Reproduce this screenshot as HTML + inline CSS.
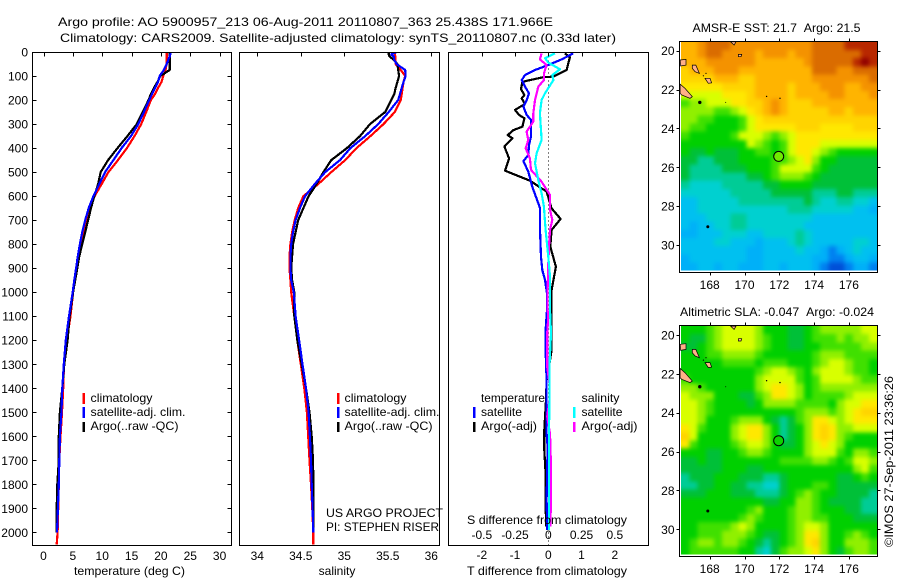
<!DOCTYPE html>
<html lang="en">
<head>
<meta charset="utf-8">
<title>Argo profile 5900957_213</title>
<style>
html,body{margin:0;padding:0;background:#fff;width:900px;height:580px;overflow:hidden}
svg{display:block}
text{font-family:"Liberation Sans",Arial,sans-serif;font-size:12px;fill:#000}
.crisp{shape-rendering:crispEdges}
.frame{fill:none;stroke:#000;stroke-width:1;shape-rendering:crispEdges}
.mark{stroke-width:2.5;shape-rendering:crispEdges}
</style>
</head>
<body>
<svg id="figure" xmlns="http://www.w3.org/2000/svg" width="900" height="580" viewBox="0 0 900 580">
  <defs>
    <filter id="soften" x="-5%" y="-5%" width="110%" height="110%" color-interpolation-filters="sRGB">
      <feGaussianBlur stdDeviation="2"/>
      <feComponentTransfer><feFuncA type="linear" slope="20"/></feComponentTransfer>
    </filter>
  </defs>
  <rect x="0" y="0" width="900" height="580" fill="#fff"/>
  <text x="58" y="26" textLength="495" lengthAdjust="spacingAndGlyphs">Argo profile: AO 5900957_213 06-Aug-2011 20110807_363 25.438S 171.966E</text>
  <text x="60" y="42" textLength="556" lengthAdjust="spacingAndGlyphs">Climatology: CARS2009. Satellite-adjusted climatology: synTS_20110807.nc (0.33d later)</text>

  <g id="temp-panel"></g>
  <g id="sal-panel"></g>
  <g id="diff-panel"></g>
  <g id="sst-map"></g>
  <g id="sla-map"></g>

  <text x="129.5" y="575" text-anchor="middle" textLength="111" lengthAdjust="spacingAndGlyphs">temperature (deg C)</text>
  <text x="337" y="575" text-anchor="middle">salinity</text>
  <text x="467" y="575" textLength="160" lengthAdjust="spacingAndGlyphs">T difference from climatology</text>
  <text x="467" y="524" textLength="160" lengthAdjust="spacingAndGlyphs">S difference from climatology</text>

  <g>
    <line class="mark" x1="83.5" x2="83.5" y1="393" y2="404" stroke="#f00"/>
    <line class="mark" x1="83.5" x2="83.5" y1="407" y2="418" stroke="#00f"/>
    <line class="mark" x1="83.5" x2="83.5" y1="422" y2="432" stroke="#000"/>
    <text x="90.5" y="402" textLength="62" lengthAdjust="spacingAndGlyphs">climatology</text>
    <text x="90.5" y="416" textLength="95" lengthAdjust="spacingAndGlyphs">satellite-adj. clim.</text>
    <text x="90.5" y="430" textLength="88" lengthAdjust="spacingAndGlyphs">Argo(..raw -QC)</text>
  </g>
  <g>
    <line class="mark" x1="338" x2="338" y1="393" y2="404" stroke="#f00"/>
    <line class="mark" x1="338" x2="338" y1="407" y2="418" stroke="#00f"/>
    <line class="mark" x1="338" x2="338" y1="422" y2="432" stroke="#000"/>
    <text x="344.5" y="402" textLength="62" lengthAdjust="spacingAndGlyphs">climatology</text>
    <text x="344.5" y="416" textLength="95" lengthAdjust="spacingAndGlyphs">satellite-adj. clim.</text>
    <text x="344.5" y="430" textLength="88" lengthAdjust="spacingAndGlyphs">Argo(..raw -QC)</text>
  </g>
  <g>
    <line class="mark" x1="474" x2="474" y1="407" y2="418" stroke="#00f"/>
    <line class="mark" x1="474" x2="474" y1="422" y2="432" stroke="#000"/>
    <line class="mark" x1="574" x2="574" y1="407" y2="418" stroke="#0ff"/>
    <line class="mark" x1="574" x2="574" y1="422" y2="432" stroke="#f0f"/>
    <text x="481" y="402" textLength="64" lengthAdjust="spacingAndGlyphs">temperature</text>
    <text x="481" y="416" textLength="41" lengthAdjust="spacingAndGlyphs">satellite</text>
    <text x="481" y="430" textLength="56" lengthAdjust="spacingAndGlyphs">Argo(-adj)</text>
    <text x="581.5" y="402" textLength="38" lengthAdjust="spacingAndGlyphs">salinity</text>
    <text x="581.5" y="416" textLength="41" lengthAdjust="spacingAndGlyphs">satellite</text>
    <text x="581.5" y="430" textLength="56" lengthAdjust="spacingAndGlyphs">Argo(-adj)</text>
  </g>

  <text x="326" y="517" textLength="117" lengthAdjust="spacingAndGlyphs">US ARGO PROJECT</text>
  <text x="326" y="531" textLength="113" lengthAdjust="spacingAndGlyphs">PI: STEPHEN RISER</text>

  <text x="692.5" y="32" textLength="168" lengthAdjust="spacingAndGlyphs">AMSR-E SST: 21.7 &#160;Argo: 21.5</text>
  <text x="680" y="316" textLength="194" lengthAdjust="spacingAndGlyphs">Altimetric SLA: -0.047 &#160;Argo: -0.024</text>
  <text transform="translate(893,547) rotate(-90)" textLength="171" lengthAdjust="spacingAndGlyphs">©IMOS 27-Sep-2011 23:36:26</text>
</svg>

<script>
// ---- profile data ----
const depths = [0,10,20,30,50,75,100,125,150,175,200,250,300,350,400,450,500,550,600,650,700,750,800,850,900,950,1000,1100,1200,1300,1400,1500,1600,1700,1800,1900,2000,2050];
const tempClimatology = [21.0,21.0,21.0,21.0,20.95,20.8,20.4,20.1,19.5,19.0,18.3,17.5,16.65,15.5,14.2,12.7,11.05,9.9,8.7,7.9,7.25,6.8,6.4,6.05,5.75,5.4,5.05,4.6,3.95,3.5,3.35,3.15,2.9,2.7,2.6,2.5,2.4,2.25];
const tempSatellite = [21.7,21.6,21.5,21.3,21.0,20.5,19.8,19.5,19.0,18.5,18.0,17.1,16.15,14.9,13.3,11.9,10.5,9.5,8.5,7.7,7.1,6.6,6.2,5.85,5.55,5.25,4.97,4.35,3.8,3.45,3.2,3.05,2.8,2.7,2.6,2.45,2.3,null];
const tempArgo = [21.5,21.5,21.5,21.5,21.5,21.5,19.9,19.4,18.8,18.3,17.9,16.9,15.9,14.3,12.6,11.0,9.75,9.3,8.65,8.1,7.6,7.1,6.6,6.1,5.75,5.4,5.05,4.45,4.1,3.55,3.2,2.8,2.6,2.6,2.35,2.25,2.25,null];
const salClimatology = [35.58,35.58,35.59,35.59,35.59,35.65,35.7,35.68,35.67,35.66,35.65,35.58,35.45,35.3,35.14,35.01,34.85,34.7,34.53,34.47,34.43,34.4,34.38,34.37,34.37,34.38,34.39,34.425,34.46,34.5,34.54,34.57,34.585,34.6,34.617,34.632,34.644,34.644];
const salSatellite = [35.6,35.54,35.57,35.57,35.6,35.7,35.705,35.68,35.66,35.64,35.62,35.51,35.39,35.24,35.07,34.95,34.78,34.66,34.55,34.49,34.44,34.41,34.39,34.38,34.38,34.39,34.42,34.44,34.48,34.52,34.56,34.59,34.605,34.617,34.625,34.636,34.644,null];
const salArgo = [35.51,35.51,35.525,35.56,35.61,35.62,35.63,35.61,35.59,35.575,35.54,35.47,35.295,35.18,35.03,34.85,34.76,34.68,34.59,34.53,34.47,34.44,34.41,34.4,34.39,34.4,34.425,34.425,34.46,34.51,34.56,34.6,34.625,34.64,34.645,34.645,34.645,null];

// ---- difference data ----
const tDiffArgoDepths = [6,22,75,103,105,117,124,155,179,193,216,241,262,276,311,325,346,359,394,443,494,536,581,651,695,741,810,894,991,1130,1241,1310,1366,1449,1574,1657,1754,1830,1976];
const tDiffArgo = [.5,.65,.55,.15,-.15,-.55,-.78,-.82,-.72,-.8,-.7,-1.0,-.88,-.72,-.78,-1.05,-1.22,-1.08,-1.32,-1.18,-1.3,-.55,-.05,.1,.37,.1,.06,.23,.1,.1,.1,.02,-.05,-.07,-.12,-.12,-.08,-.08,-.07];
const tDiffSatDepths = [6,31,54,75,96,117,144,172,200,228,262,283,325,352,387,429,454,498,561,630,651,741,852,908,949,1005,1074,1157,1241,1366,1449,1588,1643,1865,1990];
const tDiffSat = [.75,.40,0,-.40,-.70,-.80,-.70,-.58,-.65,-.75,-.65,-.52,-.52,-.52,-.58,-.60,-.75,-.60,-.48,-.30,-.25,-.25,-.22,-.18,-.10,-.04,-.04,-.08,-.08,-.05,-.05,-.05,-.02,-.05,-.03];
const sDiffSatDepths = [6,26,44,72,96,117,172,200,255,325,366,422,463,533,588,644,741,852,935,1074,1171,1310,1449,1588,1727,1990];
const sDiffSat = [.05,-.025,0,.088,.03,.038,-.025,-.05,-.063,-.055,-.05,-.088,-.10,-.075,-.05,-.033,-.02,0,.013,.013,.02,.008,.008,.005,.005,.005];
const sDiffArgoDepths = [6,31,54,89,117,144,200,255,290,332,366,401,443,491,540,595,657,699,741,810,880,991,1074,1102,1171,1310,1379,1449,1518,1588,1727,1865,1976];
const sDiffArgo = [-.05,-.063,-.013,-.033,-.033,-.075,-.10,-.113,-.113,-.163,-.15,-.17,-.138,-.13,-.05,.013,.013,.03,.013,.005,0,-.005,-.005,0,-.008,-.008,.008,.008,-.008,.013,.02,.02,.015];

// ---- tick labels ----
const depthTicks = [0,100,200,300,400,500,600,700,800,900,1000,1100,1200,1300,1400,1500,1600,1700,1800,1900,2000];
const tempTicks = [0,5,10,15,20,25,30];
const salTicks = [34,34.5,35,35.5,36];
const tDiffTicks = [-2,-1,0,1,2];
const sDiffTicks = [-0.5,-0.25,0,0.25,0.5];
const lonTicks = [168,170,172,174,176];
const latTicks = [20,22,24,26,28,30];

// ---- map data: colour-scale levels, rows north to south ----
const sstLevels = [
[13,13,14,15,15,15,14,14,14,14,14,14,14,14,14,14,15,15,15,15,16,16,16,16],
[13,13,14,15,15,14,14,14,14,13,14,14,14,13,14,14,15,15,15,15,15,15,16,16],
[13,13,13,14,14,14,14,14,14,13,13,13,13,13,13,14,15,15,15,15,15,16,17,16],
[12,13,13,13,14,14,14,13,13,13,13,13,13,13,13,13,15,15,15,14,14,15,15,15],
[12,12,12,12,13,13,13,12,12,13,13,13,13,13,13,13,14,14,14,14,14,14,14,15],
[11,11,11,11,11,12,12,12,12,13,13,13,13,12,13,13,13,14,14,14,13,13,14,14],
[10,10,10,10,10,11,11,11,12,13,13,13,13,12,13,13,13,13,14,14,13,13,13,14],
[8,9,9,10,10,10,11,11,12,12,13,14,13,12,12,12,13,13,13,13,13,13,13,13],
[9,9,9,9,8,8,9,10,11,12,13,14,13,12,12,12,12,12,13,13,12,13,13,13],
[9,9,8,8,7,7,7,8,10,11,12,12,12,12,12,12,12,12,12,12,12,12,12,12],
[9,8,8,7,7,7,7,8,10,11,11,11,11,11,12,12,12,11,11,11,11,12,12,12],
[8,7,7,7,7,7,8,10,10,10,9,8,9,10,11,11,11,11,11,11,11,11,11,11],
[7,7,7,7,7,7,7,7,10,9,8,7,8,10,11,11,11,10,10,10,10,10,10,10],
[7,6,6,7,6,6,6,7,7,8,8,7,8,10,11,11,10,9,8,7,7,7,7,7],
[6,6,5,5,6,6,6,7,7,7,7,8,8,9,10,11,9,7,7,6,6,6,6,6],
[6,5,5,5,5,6,6,6,7,7,7,8,10,10,10,10,8,7,6,6,6,6,6,6],
[6,5,5,5,5,5,5,5,6,6,7,8,9,9,9,8,7,6,6,6,6,6,6,6],
[5,4,4,4,4,5,5,5,5,5,6,6,7,7,7,7,6,6,6,6,6,6,6,6],
[4,4,4,4,4,4,5,5,5,5,5,6,6,6,6,6,5,5,5,6,6,5,5,5],
[3,3,4,4,4,4,4,5,5,5,5,5,5,5,5,6,5,4,4,5,5,4,4,3],
[3,3,4,4,4,4,4,4,4,4,4,4,4,5,5,5,4,4,4,4,4,3,3,2],
[3,3,3,4,4,4,5,5,4,4,4,4,4,4,4,4,3,3,3,3,3,3,3,3],
[3,2,3,3,4,4,5,5,4,4,4,4,4,4,4,3,3,3,3,3,3,3,3,3],
[2,2,3,3,3,4,4,4,3,3,4,4,4,4,5,4,3,3,3,3,3,3,3,3],
[3,3,3,3,4,4,3,3,3,2,3,3,3,4,5,4,3,3,3,3,3,4,4,3],
[3,3,3,3,3,3,3,3,2,2,3,3,3,3,4,3,3,2,1,2,3,4,3,3],
[2,3,3,3,3,3,3,3,2,2,3,3,3,3,3,3,2,2,1,1,2,3,3,2],
[2,2,3,3,2,3,3,2,2,2,3,3,2,3,3,3,2,1,0,0,1,2,2,1]
];
const slaLevels = [
[7,7,7,8,9,10,10,10,10,9,7,7,7,6,6,7,8,9,9,9,9,9,10,10],
[7,6,6,8,9,10,10,10,10,9,8,7,7,6,6,7,8,8,8,9,8,9,9,10],
[6,6,7,8,9,10,10,10,10,9,8,7,7,6,6,7,7,8,8,8,8,8,9,9],
[7,7,7,8,8,9,9,9,9,8,7,7,7,7,7,7,8,9,9,9,8,8,8,8],
[7,7,7,7,7,8,8,8,8,7,8,8,8,7,7,7,8,9,10,10,9,8,8,7],
[7,7,7,7,7,7,7,7,7,8,9,10,10,9,8,7,9,10,10,10,9,8,8,7],
[8,7,7,7,7,7,7,7,7,9,10,10,10,10,8,7,8,10,10,10,10,9,8,8],
[9,9,8,7,7,7,7,7,7,9,10,11,11,10,9,7,8,9,9,9,9,9,9,9],
[10,9,9,9,7,7,7,6,6,8,9,11,11,10,9,7,8,8,8,8,9,10,10,10],
[10,10,9,8,7,7,7,7,6,7,9,9,9,9,8,8,8,8,7,9,10,10,11,11],
[10,10,9,8,7,7,7,7,7,7,7,7,7,7,8,9,9,9,8,9,10,11,12,12],
[10,10,9,7,7,7,8,9,9,9,7,6,5,6,8,9,11,11,10,9,10,11,11,11],
[11,10,8,7,7,7,9,10,11,11,9,7,5,6,7,9,11,12,11,9,9,10,10,10],
[12,10,7,7,7,7,9,10,11,11,9,7,5,6,7,9,11,12,11,9,8,7,7,7],
[11,8,7,7,7,7,8,9,10,10,9,7,6,6,7,9,10,11,10,9,7,7,7,7],
[7,7,7,6,6,7,7,8,9,9,8,7,7,7,7,9,10,10,10,8,7,9,9,8],
[6,6,7,6,6,7,7,7,7,7,7,7,8,8,8,8,9,9,8,7,8,10,10,9],
[6,6,6,6,6,7,7,7,6,6,7,7,7,7,7,7,7,7,7,7,7,9,10,8],
[5,6,6,6,7,7,7,6,6,6,5,5,6,7,7,7,7,7,7,6,6,7,8,7],
[5,5,6,6,7,7,6,6,5,5,4,4,6,7,7,7,8,8,7,6,6,6,6,6],
[6,6,6,7,7,7,6,6,6,5,5,5,6,7,8,9,8,7,7,6,6,6,6,5],
[7,7,7,7,7,7,7,7,7,7,6,6,7,7,9,9,8,7,6,6,6,6,5,5],
[7,7,7,7,7,7,7,7,8,9,7,7,7,8,9,9,8,7,7,7,6,6,5,5],
[7,7,7,7,7,7,7,8,9,8,7,7,7,8,9,9,8,8,7,7,7,6,6,6],
[7,7,8,8,8,8,9,10,9,7,7,7,7,8,9,10,10,9,7,7,7,7,7,7],
[7,7,8,8,8,9,9,9,8,7,6,6,7,8,9,11,11,9,7,7,8,9,8,7],
[7,8,9,9,8,9,9,8,7,6,5,6,7,8,9,11,12,9,7,7,9,9,9,8],
[7,8,8,8,8,8,8,7,7,5,4,6,8,9,9,10,11,9,7,6,8,9,9,8]
];
const argoLon = 171.966;
const argoLat = 25.438;
const argoSstLevel = 8.6;
const argoSlaLevel = 7.2;

// ---- coastline data (lon, lat) ----
const islandOutlines = [
[[166.30,21.72],[166.58,21.94],[167.0,22.37],[166.87,22.45],[166.39,22.28],[166.30,22.2]],
[[167.0,20.74],[167.2,20.74],[167.41,21.17],[167.16,21.08],[167.0,20.91]],
[[167.73,21.42],[168.02,21.42],[168.11,21.65],[167.92,21.68]],
[[166.3,20.48],[166.64,20.45],[166.64,20.74],[166.33,20.79]],
[[169.2,19.54],[169.51,19.54],[169.4,19.71]],
[[169.65,20.19],[169.84,20.19],[169.8,20.31],[169.65,20.31]]
];
const isletLons = [167.43,167.89,168.92,171.27,172.04,167.79,167.64];
const isletLats = [22.66,29.06,22.66,22.35,22.45,21.17,21.29];
const isletSizes = [1.7,1.5,0.5,0.7,0.7,0.6,0.6];

// ---- colour scale ----
const scaleColors = [[0,80,216],[0,128,240],[0,176,248],[0,192,240],[0,208,208],[0,204,150],[0,192,56],[0,208,0],[64,224,0],[144,240,0],[216,255,0],[255,232,0],[255,212,0],[255,180,0],[244,146,0],[218,108,0],[184,40,0],[144,0,0]];
function levelColor(v){
  const c = Math.max(0, Math.min(scaleColors.length - 1, v));
  const i = Math.min(scaleColors.length - 2, Math.floor(c));
  const f = c - i;
  const a = scaleColors[i], b = scaleColors[i + 1];
  return 'rgb(' + [0,1,2].map(k => Math.round(a[k] + (b[k] - a[k]) * f)).join(',') + ')';
}

// ---- helpers ----
const NS = 'http://www.w3.org/2000/svg';
function make(tag, parent, attrs, name, txt){
  const el = document.createElementNS(NS, tag);
  for (const k in attrs) el.setAttribute(k, attrs[k]);
  
  
  if (txt !== undefined) el.textContent = txt;
  parent.appendChild(el);
  return el;
}
const depthY = d => 52 + 0.2402 * d;
const tempX = t => 43.5 + 5.87 * t;
const salX = s => 257.3 + 87 * (s - 34);
const tDiffX = t => 548.3 + 33.25 * t;
const sDiffX = s => 548.3 + 133 * s;

function drawProfile(group, clipId, xFn, ds, vals, color, name){
  const pts = [];
  ds.forEach((d, i) => {
    if (vals[i] !== null) pts.push(xFn(vals[i]).toFixed(1) + ',' + depthY(d).toFixed(1));
  });
  make('polyline', group, {points: pts.join(' '), fill: 'none', stroke: color, 'stroke-width': 2.2, 'stroke-linejoin': 'round', 'clip-path': 'url(#' + clipId + ')', 'shape-rendering': 'crispEdges'}, name);
}
function makeClip(id, x, y, w, h){
  const svg = document.getElementById('figure');
  const cp = document.createElementNS(NS, 'clipPath');
  cp.setAttribute('id', id);
  const r = document.createElementNS(NS, 'rect');
  r.setAttribute('x', x);
  r.setAttribute('y', y);
  r.setAttribute('width', w);
  r.setAttribute('height', h);
  cp.appendChild(r);
  svg.appendChild(cp);
}
function panelFrame(group, left, right, top, bottom){
  make('rect', group, {x: left, y: top, width: right - left, height: bottom - top, class: 'frame'}, 'plot-frame');
}
function topTicks(group, xs, xFn, y){
  xs.forEach(v => {
    const x = Math.round(xFn(v)) + 0.5;
    make('line', group, {x1: x, x2: x, y1: y, y2: y + 4, stroke: '#000', class: 'crisp'}, 'x-tick');
  });
}
function xLabels(group, xs, xFn, y, name){
  xs.forEach(v => {
    make('text', group, {x: xFn(v).toFixed(1), y: y, 'text-anchor': 'middle'}, name, String(v));
  });
}

// ---- temperature panel ----
const tempG = document.getElementById('temp-panel');
makeClip('clip-temp', 32.5, 52.5, 199, 493);
drawProfile(tempG, 'clip-temp', tempX, depths, tempClimatology, '#f00', 'temperature-climatology-line');
drawProfile(tempG, 'clip-temp', tempX, depths, tempArgo, '#000', 'temperature-argo-line');
drawProfile(tempG, 'clip-temp', tempX, depths, tempSatellite, '#00f', 'temperature-satellite-line');
panelFrame(tempG, 32.5, 231.5, 52.5, 545.5);
topTicks(tempG, tempTicks, tempX, 52.5);
xLabels(tempG, tempTicks, tempX, 560, 'temperature-tick-label');
depthTicks.forEach(d => {
  const y = Math.round(depthY(d)) + 0.5;
  if (d > 0) {
    make('line', tempG, {x1: 32.5, x2: 36.5, y1: y, y2: y, stroke: '#000', class: 'crisp'}, 'depth-tick-left');
    make('line', tempG, {x1: 227.5, x2: 231.5, y1: y, y2: y, stroke: '#000', class: 'crisp'}, 'depth-tick-right');
  }
  make('text', tempG, {x: 28, y: (depthY(d) + 4.5).toFixed(1), 'text-anchor': 'end'}, 'depth-tick-label', String(d));
});

// ---- salinity panel ----
const salG = document.getElementById('sal-panel');
makeClip('clip-sal', 239.5, 52.5, 200, 493);
drawProfile(salG, 'clip-sal', salX, depths, salClimatology, '#f00', 'salinity-climatology-line');
drawProfile(salG, 'clip-sal', salX, depths, salArgo, '#000', 'salinity-argo-line');
drawProfile(salG, 'clip-sal', salX, depths, salSatellite, '#00f', 'salinity-satellite-line');
panelFrame(salG, 239.5, 439.5, 52.5, 545.5);
topTicks(salG, salTicks, salX, 52.5);
xLabels(salG, salTicks, salX, 560, 'salinity-tick-label');

// ---- difference panel ----
const diffG = document.getElementById('diff-panel');
makeClip('clip-diff', 448.5, 52.5, 200, 493);
make('line', diffG, {x1: tDiffX(0), x2: tDiffX(0), y1: 52.5, y2: 545.5, stroke: '#000', 'stroke-dasharray': '1 3', class: 'crisp'}, 'zero-line');
drawProfile(diffG, 'clip-diff', tDiffX, tDiffArgoDepths, tDiffArgo, '#000', 't-difference-argo-line');
drawProfile(diffG, 'clip-diff', tDiffX, tDiffSatDepths, tDiffSat, '#00f', 't-difference-satellite-line');
drawProfile(diffG, 'clip-diff', sDiffX, sDiffArgoDepths, sDiffArgo, '#f0f', 's-difference-argo-line');
drawProfile(diffG, 'clip-diff', sDiffX, sDiffSatDepths, sDiffSat, '#0ff', 's-difference-satellite-line');
panelFrame(diffG, 448.5, 648.5, 52.5, 545.5);
topTicks(diffG, tDiffTicks, tDiffX, 52.5);
xLabels(diffG, tDiffTicks, tDiffX, 559, 't-difference-tick-label');
xLabels(diffG, sDiffTicks, sDiffX, 539, 's-difference-tick-label');

// ---- maps ----
const gridLonStart = 166.37;
const gridLonStep = 0.4692;
const gridLatStart = 19.54;
const gridLatStep = 0.4207;
const lonX = lon => 779.3 + (lon - 172) * 17.4;

function drawMap(group, levels, lat20Y, top, bottom, argoLevel, clipId){
  const latY = lat => lat20Y + (lat - 20) * 19.43;
  makeClip(clipId, 679.5, top, 198, bottom - top);
  makeClip(clipId + '-cells', 681, top, 196.5, bottom - top - 2);
  const cells = make('g', group, {filter: 'url(#soften)', 'clip-path': 'url(#' + clipId + '-cells)'}, 'map-heatmap');
  levels.forEach((row, r) => {
    row.forEach((v, c) => {
      const x0 = lonX(gridLonStart + c * gridLonStep);
      const y0 = latY(gridLatStart + r * gridLatStep);
      const w = gridLonStep * 17.4;
      const h = gridLatStep * 19.43;
      make('rect', cells, {x: x0.toFixed(2), y: y0.toFixed(2), width: (w + 0.4).toFixed(2), height: (h + 0.4).toFixed(2), fill: levelColor(v), class: 'crisp'}, 'map-cell');
    });
  });
  islandOutlines.forEach(poly => {
    const pts = poly.map(p => lonX(p[0]).toFixed(1) + ',' + latY(p[1]).toFixed(1)).join(' ');
    make('polygon', group, {points: pts, fill: '#ffb088', stroke: '#000', 'stroke-width': 0.7, 'clip-path': 'url(#' + clipId + ')'}, 'island');
  });
  isletLons.forEach((lon, i) => {
    make('circle', group, {cx: lonX(lon).toFixed(1), cy: latY(isletLats[i]).toFixed(1), r: isletSizes[i], fill: '#000'}, 'islet');
  });
  make('circle', group, {cx: lonX(argoLon).toFixed(1), cy: latY(argoLat).toFixed(1), r: 5, fill: levelColor(argoLevel), stroke: '#000', 'stroke-width': 1}, 'argo-position-marker');
  make('rect', group, {x: 679.5, y: top, width: 198, height: bottom - top, class: 'frame'}, 'map-frame');
  lonTicks.forEach(lon => {
    const x = Math.round(lonX(lon)) + 0.5;
    make('line', group, {x1: x, x2: x, y1: top - 3, y2: top, stroke: '#000', class: 'crisp'}, 'longitude-tick-top');
    make('line', group, {x1: x, x2: x, y1: bottom, y2: bottom + 3, stroke: '#000', class: 'crisp'}, 'longitude-tick-bottom');
    make('text', group, {x: lonX(lon).toFixed(1), y: bottom + 16.5, 'text-anchor': 'middle'}, 'longitude-tick-label', String(lon));
  });
  latTicks.forEach(lat => {
    const y = Math.round(latY(lat)) + 0.5;
    make('line', group, {x1: 676.5, x2: 679.5, y1: y, y2: y, stroke: '#000', class: 'crisp'}, 'latitude-tick-left');
    make('line', group, {x1: 877.5, x2: 880.5, y1: y, y2: y, stroke: '#000', class: 'crisp'}, 'latitude-tick-right');
    make('text', group, {x: 674.5, y: (latY(lat) + 4.5).toFixed(1), 'text-anchor': 'end'}, 'latitude-tick-label', String(lat));
  });
}
drawMap(document.getElementById('sst-map'), sstLevels, 50.7, 41.5, 272.5, argoSstLevel, 'clip-sst');
drawMap(document.getElementById('sla-map'), slaLevels, 335, 325.5, 556.5, argoSlaLevel, 'clip-sla');
</script>
</body>
</html>
